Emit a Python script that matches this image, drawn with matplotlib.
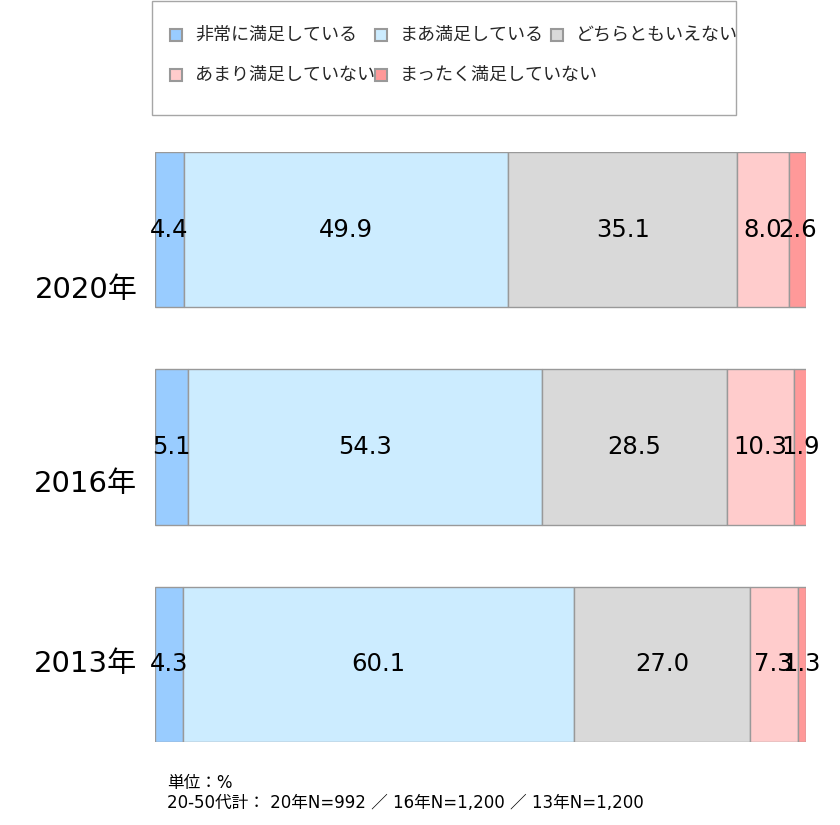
import numpy as np
import matplotlib
matplotlib.use("Agg")
import matplotlib.pyplot as plt
from matplotlib.patches import Rectangle

plt.rcParams['font.family'] = ['DejaVu Sans', 'Noto Sans CJK JP']

years = ['2020年', '2016年', '2013年']
categories = ['非常に満足している', 'まあ満足している', 'どちらともいえない',
              'あまり満足していない', 'まったく満足していない']
very = [4.4, 5.1, 4.3]
fairly = [49.9, 54.3, 60.1]
neutral = [35.1, 28.5, 27.0]
notmuch = [8.0, 10.3, 7.3]
notatall = [2.6, 1.9, 1.3]
series = [very, fairly, neutral, notmuch, notatall]

colors = ['#99CCFF', '#CCECFF', '#D9D9D9', '#FFCCCC', '#FF9999']
edge = '#999999'

fig = plt.figure(figsize=(8.4, 8.25), dpi=100)
ax = fig.add_axes([155/840, 83/825, 651/840, 590/825])

ypos = np.arange(len(years))
h = 0.713
left = np.zeros(len(years))
for vals, c in zip(series, colors):
    bars = ax.barh(ypos, vals, left=left, height=h, color=c,
                   edgecolor=edge, linewidth=1)
    ax.bar_label(bars, labels=['%.1f' % v for v in vals], label_type='center',
                 fontsize=17.5, color='black')
    left += np.array(vals)

ax.set_xlim(0, 100)
ax.set_ylim(-h / 2 + 2.713, -h / 2)
ax.axis('off')

# year labels (sit a bit low like the original)
label_shift = [0.28, 0.17, 0.0]
for i, (yr, s) in enumerate(zip(years, label_shift)):
    ax.text(-0.027, i + s, yr, transform=ax.get_yaxis_transform(),
            ha='right', va='center', fontsize=21)

# legend drawn by hand to mimic Excel layout
fig.patches.append(Rectangle((152/840, 1 - 115/825), 584/840, 114/825,
                             transform=fig.transFigure, fill=False,
                             edgecolor='#A6A6A6', linewidth=1))
leg_pos = [(176, 35), (381, 35), (557, 35), (176, 75), (381, 75)]
for (px, py), c, name in zip(leg_pos, colors, categories):
    fig.patches.append(Rectangle(((px - 6)/840, 1 - (py + 6)/825), 12/840, 12/825,
                                 transform=fig.transFigure, facecolor=c,
                                 edgecolor=edge, linewidth=1.5))
    fig.text((px + 19)/840, 1 - py/825, name, ha='left', va='center',
             fontsize=13, color='#262626')

fig.text(167/840, 1 - 783/825, '単位：%', ha='left', va='center', fontsize=12)
fig.text(167/840, 1 - 803/825, '20-50代計： 20年N=992 ／ 16年N=1,200 ／ 13年N=1,200',
         ha='left', va='center', fontsize=12)

fig.savefig('out.png', dpi=100)
